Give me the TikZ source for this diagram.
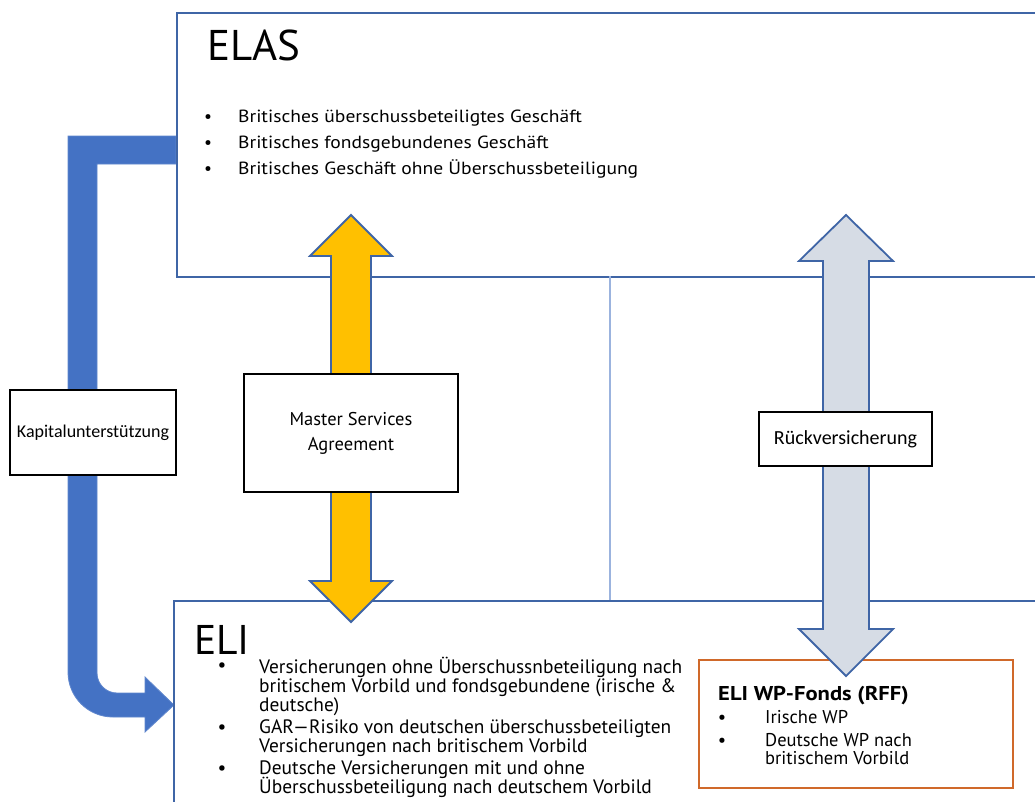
\documentclass[tikz,border=0pt]{standalone}
\usepackage{fontspec}
\setmainfont{PT Sans}
\newfontfamily\labfont{Carlito}
\newfontfamily\widefont[FakeStretch=1.11]{PT Sans}
\newfontfamily\widerfont[FakeStretch=1.13]{PT Sans}
\definecolor{boxblue}{HTML}{3F65A6}
\definecolor{thinblue}{HTML}{9BB3DE}
\definecolor{arrblue}{HTML}{4472C4}
\definecolor{arryellow}{HTML}{FFC000}
\definecolor{arrgrey}{HTML}{D6DCE5}
\definecolor{orangebox}{HTML}{D0692A}
\begin{document}
\begin{tikzpicture}[x=1pt,y=-1pt,
  bigbox/.style={draw=boxblue,line width=2pt,fill=white,inner sep=0pt,anchor=north west},
  labbox/.style={draw=black,line width=2.4pt,fill=white,inner sep=0pt,align=center},
  blockarrow/.style={draw=boxblue,line width=1.8pt,line join=miter},
  titletxt/.style={inner sep=0pt,anchor=base west,text depth=0pt,font=\fontsize{43}{43}\selectfont},
  elastxt/.style={inner sep=0pt,anchor=base west,font=\widefont\fontsize{17.6}{26}\selectfont},
  elitxt/.style={inner sep=0pt,anchor=base west,font=\fontsize{19.4}{19}\selectfont},
  rfftxt/.style={inner sep=0pt,anchor=base west,font=\fontsize{18.5}{19}\selectfont},
  bul/.style={inner sep=0pt,anchor=base}]
\useasboundingbox (0,0) rectangle (1035,801);
\fill[white] (0,0) rectangle (1035,801);

% bent blue arrow (Kapitalunterstuetzung)
\fill[arrblue,draw=arrblue!85!white,line width=0.8pt]
  (176,136) -- (68,136) -- (68,672) .. controls (68,697) and (88,717) .. (113,717)
  -- (145,717) -- (145,732) -- (174,705) -- (145,677) -- (145,693) -- (117,693)
  .. controls (106,693) and (97,684) .. (97,673) -- (97,164) -- (176,164) -- cycle;

% main boxes
\node[bigbox,minimum width=880pt,minimum height=264pt] (elas) at (176,12) {};
\node[bigbox,minimum width=880pt,minimum height=230pt] (eli) at (173,600) {};
\draw[thinblue,line width=1.4pt] (610,276) coordinate (t1) -- (610,600) coordinate (t2);

% ELI WP-Fonds box
\node[draw=orangebox,line width=2.2pt,fill=white,inner sep=0pt,anchor=north west,
      minimum width=314pt,minimum height=128pt] (rff) at (698,659) {};

% yellow double arrow
\filldraw[blockarrow,fill=arryellow]
  (351,215) -- (392,256) -- (371,256) -- (371,581) -- (392,581) -- (351,622)
  -- (310,581) -- (331,581) -- (331,256) -- (310,256) -- cycle;
% grey double arrow
\filldraw[blockarrow,fill=arrgrey]
  (846,215) -- (893,261) -- (869,261) -- (869,629) -- (893,629) -- (846,676)
  -- (799,629) -- (823,629) -- (823,261) -- (799,261) -- cycle;

% label boxes
\node[labbox,minimum width=166pt,minimum height=85pt,font=\labfont\fontsize{18}{22}\selectfont]
  (kap) at (93,432.5) {Kapitalunterstützung};
\node[labbox,minimum width=214pt,minimum height=118pt,font=\fontsize{18.5}{25}\selectfont]
  (msa) at (351,433) {Master Services\\Agreement};
\node[labbox,minimum width=173pt,minimum height=54pt,font=\labfont\fontsize{20}{24}\selectfont]
  (rv) at (845.5,439) {Rückversicherung};

% ELAS texts
\node[titletxt] (elast) at (207,60) {ELAS};
\node[bul,font=\fontsize{17.6}{26}\selectfont] (eb1) at (208,122) {•};
\node[bul,font=\fontsize{17.6}{26}\selectfont] (eb2) at (208,148) {•};
\node[bul,font=\fontsize{17.6}{26}\selectfont] (eb3) at (208,174) {•};
\node[elastxt] (el1) at (238,122) {Britisches überschussbeteiligtes Geschäft};
\node[elastxt] (el2) at (238,148) {Britisches fondsgebundenes Geschäft};
\node[elastxt] (el3) at (238,174) {Britisches Geschäft ohne Überschussbeteiligung};

% ELI texts
\node[titletxt,font=\fontsize{41.5}{42}\selectfont] (elit) at (194,654) {ELI};
\node[bul,font=\fontsize{19.4}{19}\selectfont] (ib1) at (222,671) {•};
\node[bul,font=\fontsize{19.4}{19}\selectfont] (ib2) at (222,733) {•};
\node[bul,font=\fontsize{19.4}{19}\selectfont] (ib3) at (222,774) {•};
\node[elitxt] (i11) at (259,673) {Versicherungen ohne Überschussnbeteiligung nach};
\node[elitxt] (i12) at (259,692) {britischem Vorbild und fondsgebundene (irische \&};
\node[elitxt] (i13) at (259,711) {deutsche)};
\node[elitxt] (i21) at (259,733) {GAR—Risiko von deutschen überschussbeteiligten};
\node[elitxt] (i22) at (259,752) {Versicherungen nach britischem Vorbild};
\node[elitxt] (i31) at (259,774) {Deutsche Versicherungen mit und ohne};
\node[elitxt] (i32) at (259,793) {Überschussbeteiligung nach deutschem Vorbild};

% RFF texts
\node[rfftxt,font=\widerfont\bfseries\fontsize{20}{20}\selectfont] (rfft) at (718,700) {ELI WP-Fonds (RFF)};
\node[bul,font=\fontsize{18.5}{19}\selectfont] (rb1) at (722,723) {•};
\node[bul,font=\fontsize{18.5}{19}\selectfont] (rb2) at (722,746) {•};
\node[rfftxt] (r1) at (765,723) {Irische WP};
\node[rfftxt] (r2) at (765,746) {Deutsche WP nach};
\node[rfftxt] (r3) at (765,764) {britischem Vorbild};
\end{tikzpicture}
\end{document}
